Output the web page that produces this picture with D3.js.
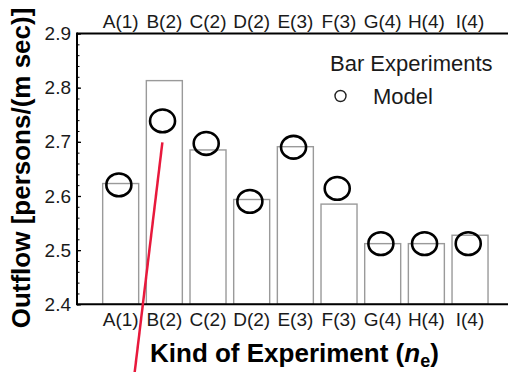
<!DOCTYPE html>
<html><head><meta charset="utf-8">
<script src="https://cdn.jsdelivr.net/npm/d3@7"></script>
<style>
html,body{margin:0;padding:0;background:#fff;}
svg{display:block;font-family:"Liberation Sans",Arial,sans-serif;}
</style></head>
<body>
<svg id="chart" width="508" height="372"></svg>
<script>
const categories = ["A(1)","B(2)","C(2)","D(2)","E(3)","F(3)","G(4)","H(4)","I(4)"];
const experimentValues = [2.623, 2.813, 2.685, 2.5935, 2.691, 2.585, 2.512, 2.512, 2.5275];
const modelValues = [2.6205, 2.7386, 2.697, 2.590, 2.690, 2.614, 2.512, 2.512, 2.512];
const yTicks = [2.4, 2.5, 2.6, 2.7, 2.8, 2.9];
const yMinorTicks = d3.range(2.40, 2.9001, 0.02);
const annotationLine = [{x: 1.955, y: 2.699}, {x: 1.32, y: 2.274}];

const svg = d3.select("#chart");
const x = d3.scaleLinear().domain([0, 10]).range([77, 513.7]);
const y = d3.scaleLinear().domain([2.4, 2.9]).range([304.3, 33.5]);
const barW = 36;

// bars
svg.append("g").selectAll("rect").data(experimentValues).join("rect")
  .attr("x", (d,i) => x(i+1) - barW/2)
  .attr("y", d => y(d))
  .attr("width", barW)
  .attr("height", d => y(2.4) - y(d))
  .attr("fill", "#fff")
  .attr("stroke", "#9a9a9a")
  .attr("stroke-width", 1.4);

// axes lines
const frame = svg.append("g").attr("stroke", "#000").attr("stroke-width", 2);
frame.append("line").attr("x1", x(0)).attr("x2", 508).attr("y1", y(2.9)).attr("y2", y(2.9));
frame.append("line").attr("x1", x(0)).attr("x2", 508).attr("y1", y(2.4)).attr("y2", y(2.4));
frame.append("line").attr("x1", x(0)).attr("x2", x(0)).attr("y1", y(2.9)-1).attr("y2", y(2.4)+1);

// y axis via d3 axis (inward ticks)
const yAxis = d3.axisRight(y).tickValues(yTicks).tickSize(4).tickFormat("");
const ya = svg.append("g").attr("transform", `translate(${x(0)},0)`).call(yAxis);
ya.select(".domain").remove();
ya.selectAll("line").attr("stroke", "#000").attr("stroke-width", 1.3);
const yMinor = d3.axisRight(y).tickValues(yMinorTicks).tickSize(2.5).tickFormat("");
const ym = svg.append("g").attr("transform", `translate(${x(0)},0)`).call(yMinor);
ym.select(".domain").remove();
ym.selectAll("line").attr("stroke", "#000").attr("stroke-width", 1);

// y tick labels
svg.append("g").selectAll("text").data(yTicks).join("text")
  .attr("x", x(0) - 6).attr("y", d => y(d))
  .attr("dy", "0.35em")
  .attr("text-anchor", "end")
  .attr("font-size", 19).attr("fill", "#1a1a1a")
  .text(d => d.toFixed(1));

// category labels bottom and top
svg.append("g").selectAll("text").data(categories).join("text")
  .attr("x", (d,i) => x(i+1)).attr("y", 325.5)
  .attr("text-anchor", "middle").attr("font-size", 19).attr("fill", "#1a1a1a")
  .text(d => d);
svg.append("g").selectAll("text").data(categories).join("text")
  .attr("x", (d,i) => x(i+1)).attr("y", 27.5)
  .attr("text-anchor", "middle").attr("font-size", 19).attr("fill", "#1a1a1a")
  .text(d => d);

// model markers
svg.append("g").selectAll("ellipse").data(modelValues).join("ellipse")
  .attr("cx", (d,i) => x(i+1) - 1.8)
  .attr("cy", d => y(d))
  .attr("rx", 12.5).attr("ry", 11.4)
  .attr("fill", "none").attr("stroke", "#000").attr("stroke-width", 2.6);

// legend
svg.append("text").attr("x", 330).attr("y", 70.5).attr("font-size", 22).attr("fill", "#1a1a1a").text("Bar Experiments");
svg.append("circle").attr("cx", 340.5).attr("cy", 96).attr("r", 5.5)
  .attr("fill", "none").attr("stroke", "#222").attr("stroke-width", 1.4);
svg.append("text").attr("x", 373).attr("y", 104).attr("font-size", 22).attr("fill", "#1a1a1a").text("Model");

// axis titles
const xt = svg.append("text").attr("x", 150).attr("y", 362)
  .attr("font-size", 26).attr("font-weight", "bold").attr("fill", "#000");
xt.append("tspan").text("Kind of Experiment (");
xt.append("tspan").attr("font-style", "italic").text("n");
xt.append("tspan").attr("font-size", 18).attr("dy", 5).text("e");
xt.append("tspan").attr("dy", -5).text(")");

svg.append("text")
  .attr("transform", "translate(30,168) rotate(-90)")
  .attr("text-anchor", "middle")
  .attr("font-size", 26).attr("font-weight", "bold").attr("fill", "#000")
  .text("Outflow [persons/(m sec)]");

// red annotation line
svg.append("path").datum(annotationLine)
  .attr("d", d3.line().x(d => x(d.x)).y(d => y(d.y)))
  .attr("stroke", "#e8193c").attr("stroke-width", 2.5).attr("fill", "none");
</script>
</body></html>
